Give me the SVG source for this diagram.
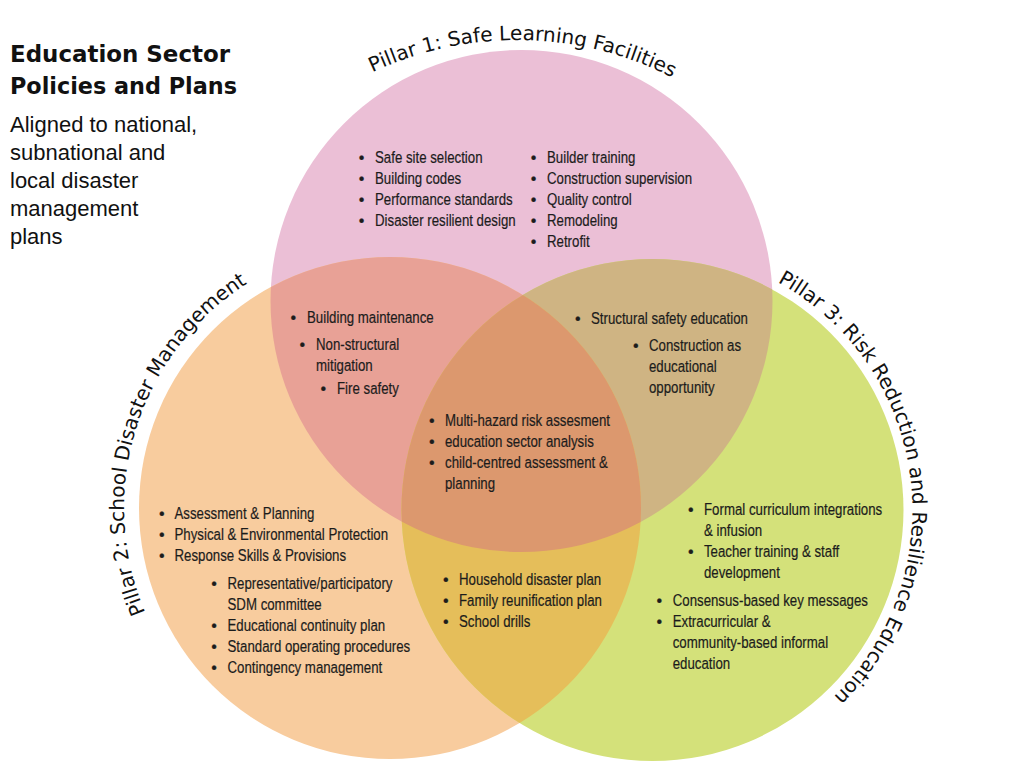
<svg xmlns="http://www.w3.org/2000/svg" width="1033" height="765" viewBox="0 0 1033 765">
<style>
.b{font-family:"Liberation Sans",Arial,sans-serif;font-size:17px;fill:#1c1c1c;stroke:#1c1c1c;stroke-width:0.2}
.d{text-anchor:middle;font-size:16px}
.lbl{font-family:"DejaVu Sans",sans-serif;font-size:20px;fill:#111}
.ttl{font-family:"DejaVu Sans",sans-serif;font-weight:bold;font-size:23px;fill:#111}
.sub{font-family:"Liberation Sans",Arial,sans-serif;font-size:22px;fill:#111}
</style>
<defs>
<circle id="cP" cx="521.5" cy="301" r="251"/>
<circle id="cO" cx="390" cy="508" r="251"/>
<circle id="cG" cx="652.5" cy="510" r="251"/>
<clipPath id="kP"><use href="#cP"/></clipPath>
<clipPath id="kO"><use href="#cO"/></clipPath>
<path id="arc1" d="M225.6,204.9 A340,340 0 0 1 814.4,215.2"/>
<path id="arc2" d="M194.8,688.7 A266,266 0 0 1 331.1,248.6"/>
<path id="arc3" d="M707.9,256 A260,260 0 0 1 773.3,740.2"/>
</defs>

<g id="circles">
<use href="#cP" fill="#EBBFD6"/>
<use href="#cO" fill="#F8CC9E"/>
<use href="#cG" fill="#D4E17A"/>
<use href="#cO" fill="#E8A196" clip-path="url(#kP)"/>
<use href="#cG" fill="#CFB483" clip-path="url(#kP)"/>
<use href="#cG" fill="#E5BE5A" clip-path="url(#kO)"/>
<g clip-path="url(#kO)"><use href="#cG" fill="#DC986E" clip-path="url(#kP)"/></g>
</g>

<g id="title">
<text class="ttl" x="10" y="62" textLength="220" lengthAdjust="spacingAndGlyphs">Education Sector</text>
<text class="ttl" x="10" y="94" textLength="227" lengthAdjust="spacingAndGlyphs">Policies and Plans</text>
<text class="sub" x="10" y="132">Aligned to national,</text>
<text class="sub" x="10" y="160">subnational and</text>
<text class="sub" x="10" y="188">local disaster</text>
<text class="sub" x="10" y="216">management</text>
<text class="sub" x="10" y="244">plans</text>
</g>

<g id="pillar1-label"><text class="lbl"><textPath href="#arc1" startOffset="50%" text-anchor="middle">Pillar 1: Safe Learning Facilities</textPath></text></g>
<g id="pillar2-label"><text class="lbl"><textPath href="#arc2" startOffset="50%" text-anchor="middle">Pillar 2: School Disaster Management</textPath></text></g>
<g id="pillar3-label"><text class="lbl"><textPath href="#arc3" startOffset="50%" text-anchor="middle">Pillar 3: Risk Reduction and Resilience Education</textPath></text></g>

<g id="pillar1">
<text class="b d" x="361.5" y="163">•</text><text class="b" transform="matrix(.78 0 0 1 375 163)">Safe site selection</text>
<text class="b d" x="361.5" y="184">•</text><text class="b" transform="matrix(.78 0 0 1 375 184)">Building codes</text>
<text class="b d" x="361.5" y="205">•</text><text class="b" transform="matrix(.78 0 0 1 375 205)">Performance standards</text>
<text class="b d" x="361.5" y="226">•</text><text class="b" transform="matrix(.78 0 0 1 375 226)">Disaster resilient design</text>
<text class="b d" x="533.5" y="163">•</text><text class="b" transform="matrix(.78 0 0 1 547 163)">Builder training</text>
<text class="b d" x="533.5" y="184">•</text><text class="b" transform="matrix(.78 0 0 1 547 184)">Construction supervision</text>
<text class="b d" x="533.5" y="205">•</text><text class="b" transform="matrix(.78 0 0 1 547 205)">Quality control</text>
<text class="b d" x="533.5" y="226">•</text><text class="b" transform="matrix(.78 0 0 1 547 226)">Remodeling</text>
<text class="b d" x="533.5" y="247">•</text><text class="b" transform="matrix(.78 0 0 1 547 247)">Retrofit</text>
</g>

<g id="pillar1-2">
<text class="b d" x="293.3" y="323">•</text><text class="b" transform="matrix(.78 0 0 1 307 323)">Building maintenance</text>
<text class="b d" x="302.3" y="350">•</text><text class="b" transform="matrix(.78 0 0 1 316 350)">Non-structural</text>
<text class="b" transform="matrix(.78 0 0 1 316 371)">mitigation</text>
<text class="b d" x="323.3" y="394">•</text><text class="b" transform="matrix(.78 0 0 1 337 394)">Fire safety</text>
</g>

<g id="pillar1-3">
<text class="b d" x="577.7" y="324">•</text><text class="b" transform="matrix(.78 0 0 1 591 324)">Structural safety education</text>
<text class="b d" x="635.7" y="350.5">•</text><text class="b" transform="matrix(.78 0 0 1 649 350.5)">Construction as</text>
<text class="b" transform="matrix(.78 0 0 1 649 371.5)">educational</text>
<text class="b" transform="matrix(.78 0 0 1 649 392.5)">opportunity</text>
</g>

<g id="all-pillars">
<text class="b d" x="431.7" y="426">•</text><text class="b" transform="matrix(.78 0 0 1 445 426)">Multi-hazard risk assesment</text>
<text class="b d" x="431.7" y="447">•</text><text class="b" transform="matrix(.78 0 0 1 445 447)">education sector analysis</text>
<text class="b d" x="431.7" y="468">•</text><text class="b" transform="matrix(.78 0 0 1 445 468)">child-centred assessment &amp;</text>
<text class="b" transform="matrix(.78 0 0 1 445 489)">planning</text>
</g>

<g id="pillar2">
<text class="b d" x="161.7" y="518.5">•</text><text class="b" transform="matrix(.78 0 0 1 174.5 518.5)">Assessment &amp; Planning</text>
<text class="b d" x="161.7" y="539.5">•</text><text class="b" transform="matrix(.78 0 0 1 174.5 539.5)">Physical &amp; Environmental Protection</text>
<text class="b d" x="161.7" y="560.5">•</text><text class="b" transform="matrix(.78 0 0 1 174.5 560.5)">Response Skills &amp; Provisions</text>
<text class="b d" x="214" y="588.5">•</text><text class="b" transform="matrix(.78 0 0 1 227.5 588.5)">Representative/participatory</text>
<text class="b" transform="matrix(.78 0 0 1 227.5 609.5)">SDM committee</text>
<text class="b d" x="214" y="630.5">•</text><text class="b" transform="matrix(.78 0 0 1 227.5 630.5)">Educational continuity plan</text>
<text class="b d" x="214" y="651.5">•</text><text class="b" transform="matrix(.78 0 0 1 227.5 651.5)">Standard operating procedures</text>
<text class="b d" x="214" y="672.5">•</text><text class="b" transform="matrix(.78 0 0 1 227.5 672.5)">Contingency management</text>
</g>

<g id="pillar2-3">
<text class="b d" x="445.7" y="585">•</text><text class="b" transform="matrix(.78 0 0 1 459 585)">Household disaster plan</text>
<text class="b d" x="445.7" y="606">•</text><text class="b" transform="matrix(.78 0 0 1 459 606)">Family reunification plan</text>
<text class="b d" x="445.7" y="627">•</text><text class="b" transform="matrix(.78 0 0 1 459 627)">School drills</text>
</g>

<g id="pillar3">
<text class="b d" x="690.7" y="515">•</text><text class="b" transform="matrix(.78 0 0 1 704 515)">Formal curriculum integrations</text>
<text class="b" transform="matrix(.78 0 0 1 704 536)">&amp; infusion</text>
<text class="b d" x="690.7" y="557">•</text><text class="b" transform="matrix(.78 0 0 1 704 557)">Teacher training &amp; staff</text>
<text class="b" transform="matrix(.78 0 0 1 704 578)">development</text>
<text class="b d" x="659.3" y="606">•</text><text class="b" transform="matrix(.78 0 0 1 672.7 606)">Consensus-based key messages</text>
<text class="b d" x="659.3" y="627">•</text><text class="b" transform="matrix(.78 0 0 1 672.7 627)">Extracurricular &amp;</text>
<text class="b" transform="matrix(.78 0 0 1 672.7 648)">community-based informal</text>
<text class="b" transform="matrix(.78 0 0 1 672.7 669)">education</text>
</g>

<g id="connectors"/>
</svg>
